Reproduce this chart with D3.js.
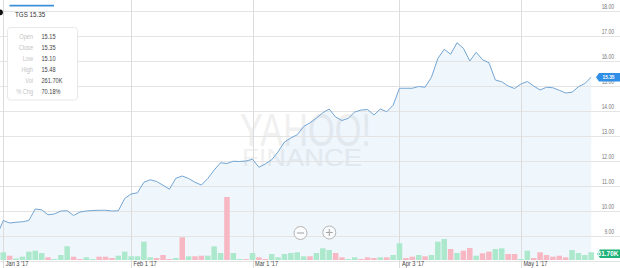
<!DOCTYPE html>
<html lang="en">
<head>
<meta charset="UTF-8">
<title>TGS - Yahoo Finance chart</title>
<style>
  body { margin: 0; background: #fff; }
  #chart svg { display: block; font-family: "Liberation Sans", Arial, sans-serif; }
  .grid line { stroke: #e4e4e4; shape-rendering: crispEdges; }
  .vgrid line { stroke: #dcdcdc; shape-rendering: crispEdges; }
</style>
</head>
<body>
<div id="chart"></div>
<script src="https://cdnjs.cloudflare.com/ajax/libs/d3/7.8.5/d3.min.js"></script>
<script>
// trading days shown (Dec 30 sits just off the left edge)
var dates = [
  "2016-12-30",
  "2017-01-03","2017-01-04","2017-01-05","2017-01-06","2017-01-09","2017-01-10","2017-01-11","2017-01-12","2017-01-13",
  "2017-01-17","2017-01-18","2017-01-19","2017-01-20","2017-01-23","2017-01-24","2017-01-25","2017-01-26","2017-01-27",
  "2017-01-30","2017-01-31",
  "2017-02-01","2017-02-02","2017-02-03","2017-02-06","2017-02-07","2017-02-08","2017-02-09","2017-02-10","2017-02-13",
  "2017-02-14","2017-02-15","2017-02-16","2017-02-17","2017-02-21","2017-02-22","2017-02-23","2017-02-24","2017-02-27",
  "2017-02-28",
  "2017-03-01","2017-03-02","2017-03-03","2017-03-06","2017-03-07","2017-03-08","2017-03-09","2017-03-10","2017-03-13",
  "2017-03-14","2017-03-15","2017-03-16","2017-03-17","2017-03-20","2017-03-21","2017-03-22","2017-03-23","2017-03-24",
  "2017-03-27","2017-03-28","2017-03-29","2017-03-30","2017-03-31",
  "2017-04-03","2017-04-04","2017-04-05","2017-04-06","2017-04-07","2017-04-10","2017-04-11","2017-04-12","2017-04-13",
  "2017-04-17","2017-04-18","2017-04-19","2017-04-20","2017-04-21","2017-04-24","2017-04-25","2017-04-26","2017-04-27",
  "2017-04-28",
  "2017-05-01","2017-05-02","2017-05-03","2017-05-04","2017-05-05","2017-05-08","2017-05-09","2017-05-10","2017-05-11",
  "2017-05-12","2017-05-15","2017-05-16"
];

var closes = [
  9.02,
  9.62, 9.52, 9.55, 9.57, 9.62, 10.08, 10.05, 9.85, 9.88,
  10.00, 10.01, 9.82, 9.96, 10.00, 10.02, 10.03, 10.03, 10.00,
  10.01, 10.50,
  10.68, 10.73, 11.15, 11.25, 11.18, 11.03, 10.87, 11.31, 11.40,
  11.30, 11.15, 11.04, 11.30, 11.64, 11.93, 11.90, 11.99, 11.98,
  12.00,
  12.07, 11.75, 11.88, 12.05, 12.37, 12.76, 12.92, 13.05, 13.38,
  13.53, 13.72, 13.93, 14.08, 13.76, 13.62, 13.71, 13.96, 14.04,
  14.06, 13.84, 14.08, 13.97, 14.23,
  14.91, 14.91, 14.91, 14.98, 14.95, 15.35, 16.10, 16.47, 16.27,
  16.73, 16.51, 16.00, 16.35, 16.05, 15.93, 15.24, 15.17, 15.00,
  14.90,
  15.08, 15.18, 15.00, 14.84, 14.95, 14.93, 14.83, 14.72, 14.75,
  14.97, 15.10, 15.35
];

// volume in thousands
var volumes = [
  150,
  262, 146, 51, 112, 282, 316, 238, 92, 34,
  170, 466, 112, 34, 92, 34, 112, 112, 68,
  146, 282,
  126, 126, 622, 92, 68, 170, 34, 68, 772,
  126, 126, 146, 146, 466, 238, 2142, 238, 34,
  34,
  238, 92, 34, 204, 92, 204, 238, 262, 126,
  126, 238, 398, 340, 238, 92, 34, 92, 34,
  92, 68, 92, 92, 170,
  568, 68, 112, 170, 126, 170, 622, 714, 374,
  238, 316, 408, 146, 228, 282, 374, 398, 204,
  204,
  34, 316, 68, 262, 170, 112, 146, 92, 340,
  238, 170, 262
];

// bar colour as drawn: u = green, d = pink
var volDir = [
  "u",
  "u","d","u","u","u","u","u","d","u",
  "u","u","d","d","u","u","d","d","d",
  "u","u",
  "u","u","u","u","d","d","d","u","d",
  "u","d","d","u","u","u","d","u","u",
  "d",
  "u","d","d","u","u","u","u","u","u",
  "d","u","u","u","d","d","u","u","d",
  "d","d","u","d","u",
  "u","d","d","u","d","u","u","u","d",
  "u","d","d","u","d","d","u","u","d",
  "d",
  "u","u","d","d","d","d","d","d","u",
  "u","u","u"
];

var priceTicks = [9, 10, 11, 12, 13, 14, 15, 16, 17, 18];
var dateTicks = ["2017-01-03", "2017-02-01", "2017-03-01", "2017-04-03", "2017-05-01"];
var dateTickLabels = ["Jan 3 '17", "Feb 1 '17", "Mar 1 '17", "Apr 3 '17", "May 1 '17"];

var infoLabels = ["Open", "Close", "Low", "High", "Vol", "% Chg"];
var infoValues = ["15.15", "15.35", "15.10", "15.48", "261.70K", "70.18%"];

var width = 620, height = 268;

var svg = d3.select("#chart").append("svg")
  .attr("width", width)
  .attr("height", height);

// the screenshot is squashed sideways, so text is narrowed to match
function squeeze(sel, k) {
  sel.each(function () {
    var len = this.getComputedTextLength();
    d3.select(this).attr("textLength", len * k).attr("lengthAdjust", "spacingAndGlyphs");
  });
}

var x = d3.scalePoint().domain(dates).range([-3.1, 591.2]);
var y = d3.scaleLinear().domain([9, 18]).range([236, 11]);
var yVol = d3.scaleLinear().domain([0, 2200]).range([260, 195.3]);
var step = x.step();

// watermark (one text element, two lines)
var wm = svg.append("text").attr("fill", "#f0f0f0");
wm.append("tspan")
  .attr("x", 240).attr("y", 146)
  .attr("font-size", 46)
  .attr("textLength", 131).attr("lengthAdjust", "spacingAndGlyphs")
  .text("YAHOO!");
wm.append("tspan")
  .attr("x", 242).attr("y", 166)
  .attr("font-size", 24)
  .attr("textLength", 120).attr("lengthAdjust", "spacingAndGlyphs")
  .text("FINANCE");

// area under the line
var area = d3.area()
  .x(function (d) { return x(d.date); })
  .y0(260)
  .y1(function (d) { return y(d.close); });

var series = dates.map(function (d, i) {
  return { date: d, close: closes[i], vol: volumes[i], dir: volDir[i] };
});

svg.append("path")
  .datum(series)
  .attr("d", area)
  .attr("fill", "rgba(70,150,225,0.085)");

// horizontal grid
svg.append("g").attr("class", "grid")
  .selectAll("line")
  .data(priceTicks.concat([8]))
  .enter().append("line")
  .attr("x1", 0).attr("x2", width)
  .attr("y1", function (d) { return Math.round(y(d)) + 0.5; })
  .attr("y2", function (d) { return Math.round(y(d)) + 0.5; });

// vertical grid at month ticks
svg.append("g").attr("class", "vgrid")
  .selectAll("line")
  .data(dateTicks)
  .enter().append("line")
  .attr("x1", function (d) { return Math.round(x(d)) + 0.5; })
  .attr("x2", function (d) { return Math.round(x(d)) + 0.5; })
  .attr("y1", 0).attr("y2", height);

// volume bars
svg.append("g")
  .selectAll("rect")
  .data(series)
  .enter().append("rect")
  .attr("x", function (d) { return x(d.date) - step * 0.43; })
  .attr("width", step * 0.86)
  .attr("y", function (d) { return yVol(d.vol); })
  .attr("height", function (d) { return 260 - yVol(d.vol); })
  .attr("fill", function (d) { return d.dir === "u" ? "#ace8cc" : "#f7b7c3"; });

// price line
var line = d3.line()
  .x(function (d) { return x(d.date); })
  .y(function (d) { return y(d.close); });

svg.append("path")
  .datum(series)
  .attr("d", line)
  .attr("fill", "none")
  .attr("stroke", "#74a6d4")
  .attr("stroke-width", 1);

// y labels on the right
svg.append("g")
  .selectAll("text")
  .data(priceTicks)
  .enter().append("text")
  .attr("x", 614)
  .attr("y", function (d) { return y(d) - 2; })
  .attr("text-anchor", "end")
  .attr("font-size", 6.5)
  .attr("fill", "#777")
  .text(function (d) { return d3.format(".2f")(d); })
  .call(squeeze, 0.76);

// x labels
svg.append("g")
  .selectAll("text")
  .data(dateTicks)
  .enter().append("text")
  .attr("x", function (d) { return x(d) + 2.5; })
  .attr("y", 265.8)
  .attr("font-size", 6.8)
  .attr("fill", "#444")
  .text(function (d, i) { return dateTickLabels[i]; })
  .call(squeeze, 0.82);

// zoom buttons
var zoomBtns = svg.append("g");
[["minus", 300.5, 233], ["plus", 329.3, 232.5]].forEach(function (b) {
  var g = zoomBtns.append("g").attr("transform", "translate(" + b[1] + "," + b[2] + ")");
  g.append("circle").attr("r", 6.5)
    .attr("fill", "rgba(255,255,255,0.7)")
    .attr("stroke", "#b4b4b4").attr("stroke-width", 1);
  g.append("line").attr("x1", -3.5).attr("x2", 3.5)
    .attr("stroke", "#a8a8a8").attr("stroke-width", 1.1);
  if (b[0] === "plus") {
    g.append("line").attr("y1", -3.5).attr("y2", 3.5)
      .attr("stroke", "#a8a8a8").attr("stroke-width", 1.1);
  }
});

// last price tag
var last = series[series.length - 1];
var ty = y(last.close);
svg.append("path")
  .attr("d", "M596," + ty + "L599," + (ty - 4.3) + "H620V" + (ty + 4.3) + "H599Z")
  .attr("fill", "#2f8fe6");
svg.append("text")
  .attr("x", 608.5).attr("y", ty + 2.2)
  .attr("text-anchor", "middle")
  .attr("font-size", 6).attr("font-weight", "bold")
  .attr("fill", "#fff")
  .text(d3.format(".2f")(last.close))
  .call(squeeze, 0.8);

// last volume tag
var vy = yVol(last.vol) + 1.5;
svg.append("path")
  .attr("d", "M597," + vy + "L600," + (vy - 4.3) + "H621V" + (vy + 4.3) + "H600Z")
  .attr("fill", "#20b27a");
svg.append("text")
  .attr("x", 618.5).attr("y", vy + 2.2)
  .attr("text-anchor", "end")
  .attr("font-size", 6.5).attr("font-weight", "bold")
  .attr("fill", "#fff")
  .text(infoValues[4]);

// header
svg.append("line")
  .attr("x1", 9.5).attr("x2", 54)
  .attr("y1", 5.6).attr("y2", 5.6)
  .attr("stroke", "#3d8fd9").attr("stroke-width", 1.6);
svg.append("ellipse")
  .attr("cx", 0.3).attr("cy", 12.3)
  .attr("rx", 2.6).attr("ry", 2.9)
  .attr("fill", "#111");
svg.append("text")
  .attr("x", 15).attr("y", 17)
  .attr("font-size", 8)
  .attr("fill", "#333")
  .text("TGS " + d3.format(".2f")(last.close))
  .call(squeeze, 0.78);

// info box
svg.append("rect")
  .attr("x", 7.5).attr("y", 27.5)
  .attr("width", 70).attr("height", 72.5)
  .attr("rx", 3)
  .attr("fill", "#fff")
  .attr("stroke", "#e8e8e8");

var info = svg.append("g");
info.selectAll("text.lbl")
  .data(infoLabels)
  .enter().append("text")
  .attr("class", "lbl")
  .attr("x", 33)
  .attr("y", function (d, i) { return 38.5 + i * 11; })
  .attr("text-anchor", "end")
  .attr("font-size", 7)
  .attr("fill", "#c4c4c4")
  .text(function (d) { return d; })
  .call(squeeze, 0.8);
info.selectAll("text.val")
  .data(infoValues)
  .enter().append("text")
  .attr("class", "val")
  .attr("x", 41.5)
  .attr("y", function (d, i) { return 38.5 + i * 11; })
  .attr("font-size", 7)
  .attr("fill", "#444")
  .text(function (d) { return d; })
  .call(squeeze, 0.8);
</script>
</body>
</html>
